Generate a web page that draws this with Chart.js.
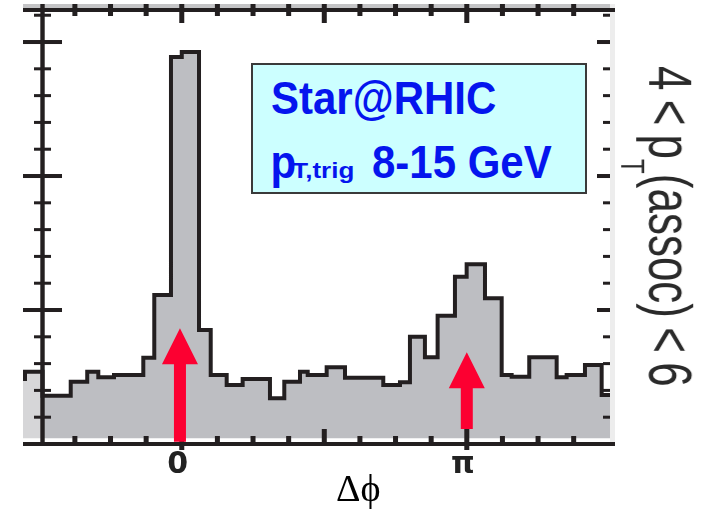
<!DOCTYPE html>
<html>
<head>
<meta charset="utf-8">
<script src="https://cdn.jsdelivr.net/npm/chart.js@4/dist/chart.umd.min.js"></script>
<style>
  html, body { margin: 0; padding: 0; background: #ffffff; }
  #wrap { position: relative; width: 712px; height: 514px; overflow: hidden; }
  #c { position: absolute; left: 0; top: 0; }
  #infobox {
    position: absolute; left: 251px; top: 63px; width: 336px; height: 131px;
    box-sizing: border-box; background: #ccffff; border: 2px solid #3a3a3a;
  }
  .boxline {
    position: absolute; white-space: nowrap;
    font: bold 42px "Liberation Sans", Arial, sans-serif; line-height: 42px;
    color: #0515ee; transform-origin: 0 35.6px; transform: scaleY(1.12);
  }
  .boxline sub {
    display: inline-block; font-size: 26px; line-height: 26px; vertical-align: baseline;
    margin-left: -4px; margin-right: 6px;
    transform-origin: 0 21px; transform: scaleY(0.75);
  }
  #xtitle {
    position: absolute; left: 336px; top: 469px; white-space: nowrap;
    font: 38px "Liberation Serif", "DejaVu Serif", serif; line-height: 38px; color: #000;
  }
  #sidelabel {
    position: absolute; left: 0; top: 0; white-space: nowrap;
    font: 44px "Liberation Sans", Arial, sans-serif; line-height: 44px; color: #2a2a2a;
    word-spacing: -3px;
    transform-origin: 0 0;
    transform: translate(701px, 66px) rotate(90deg) scaleY(1.4);
  }
  #sidelabel sub { font-size: 24px; line-height: 0; vertical-align: -20px; }
</style>
</head>
<body>
<div id="wrap">
  <canvas id="c" width="712" height="514"></canvas>
  <div id="infobox"></div>
  <div class="boxline" style="left:271px; top:79.4px;">Star@RHIC</div>
  <div class="boxline" style="left:270.5px; top:142.7px;">p<sub>T,trig</sub> 8-15 GeV</div>
  <div id="xtitle">Δϕ</div>
  <div id="sidelabel">4 &lt; p<sub>T</sub>(assoc) &lt; 6</div>
</div>
<script>
// Δφ bin edges (radians) and per-bin yield of the azimuthal correlation histogram
const binEdges = [-1.750, -1.728, -1.535, -1.224, -1.042, -0.920, -0.747, -0.424, -0.303, -0.119,
                  0.000, 0.190, 0.319, 0.495, 0.671, 0.972, 1.130, 1.303, 1.388, 1.597,
                  1.799, 2.221, 2.405, 2.515, 2.680, 2.820, 3.011, 3.140, 3.342, 3.526,
                  3.636, 3.830, 4.132, 4.242, 4.444, 4.628, 4.720];
const binYields = [0.485, 0.540, 0.360, 0.465, 0.540, 0.498, 0.515, 0.644, 1.112, 2.888,
                   2.925, 0.851, 0.515, 0.440, 0.485, 0.341, 0.465, 0.540, 0.515, 0.572,
                   0.495, 0.440, 0.460, 0.801, 0.647, 0.957, 1.249, 1.341, 1.087, 0.515,
                   0.502, 0.647, 0.498, 0.515, 0.590, 0.366];

// axis ranges and tick positions
const xRange = [-1.750, 4.720];
const yRange = [0, 3.239];
const frameLeft = -1.535;                       // position of the left vertical axis
const xTickValues = [-3, -2, -1, 0, 1, 2, 3, 4, 5, 6, 7, 8, 9, 10, 11].map(k => k * Math.PI / 8);
const xTickLabels = { 0: '0', 8: 'π' };         // keyed by multiple of π/8
const yTickValues = [0.2, 0.4, 0.6, 0.8, 1.0, 1.2, 1.4, 1.6, 1.8, 2.0,
                     2.2, 2.4, 2.6, 2.8, 3.0, 3.2];
const yMajorTicks = [1.0, 2.0, 3.0];
const fillBase = 0.042;

// near-side and away-side markers
const arrowAt = [-0.02, Math.PI];
const arrowTip = [0.863, 0.684];
const arrowHeadBase = [0.595, 0.416];
const arrowTail = [0.017, 0.112];

// each bin starts at its left edge; the last edge closes the final bin
const points = binYields.map((v, i) => ({ x: binEdges[i], y: v }));
points.push({ x: binEdges[binEdges.length - 1], y: binYields[binYields.length - 1] });

const dark = '#231f20';

const framePlugin = {
  id: 'frameTicks',
  afterDatasetsDraw(chart) {
    const { ctx, chartArea: a, scales: { x, y } } = chart;
    ctx.save();
    const right = a.right + 5;
    // band above the top axis
    ctx.fillStyle = '#c4c4c6';
    ctx.fillRect(a.left, a.top - 6, right - a.left, 4.5);
    // faint right-hand axis
    ctx.fillStyle = '#ededed';
    ctx.fillRect(a.right, a.top - 6, 5, a.bottom - a.top + 6);
    ctx.fillStyle = dark;
    // top and bottom axis lines
    ctx.fillRect(a.left, a.top - 2, right - a.left, 4);
    ctx.fillRect(a.left, a.bottom - 2, right - a.left, 4);
    // left axis
    const lx = x.getPixelForValue(frameLeft);
    ctx.fillRect(lx - 2.2, a.top - 6, 4.4, a.bottom - a.top + 8);
    // Δφ ticks on bottom and top
    xTickValues.forEach(v => {
      const k = Math.round(v / (Math.PI / 8));
      const px = x.getPixelForValue(v);
      const major = k % 4 === 0;
      const labelled = xTickLabels[k] !== undefined;
      const up = major ? 15 : 8;
      const down = labelled ? 6 : 0;
      ctx.fillRect(px - 2.5, a.bottom - up, 5, up + down);
      const topLen = major ? 19 : 12;
      ctx.fillRect(px - 2.5, a.top - 6, 5, topLen);
    });
    // yield ticks on left and right
    yTickValues.forEach(v => {
      const py = y.getPixelForValue(v);
      const major = yMajorTicks.includes(v);
      if (major) {
        ctx.fillRect(lx - 19.5, py - 2, 39, 4);
        ctx.fillRect(a.right - 13, py - 2, 13, 4);
      } else {
        ctx.fillRect(lx - 8.5, py - 1.5, 17, 3);
        ctx.fillRect(a.right - 7, py - 1.5, 7, 3);
      }
    });
    ctx.restore();
  },
  afterDraw(chart) {
    const { ctx, scales: { x, y } } = chart;
    ctx.save();
    ctx.fillStyle = '#fc0031';
    arrowAt.forEach((v, i) => {
      const px = x.getPixelForValue(v);
      const tip = y.getPixelForValue(arrowTip[i]);
      const hb = y.getPixelForValue(arrowHeadBase[i]);
      const tail = y.getPixelForValue(arrowTail[i]);
      ctx.beginPath();
      ctx.moveTo(px, tip);
      ctx.lineTo(px + 18, hb);
      ctx.lineTo(px + 6, hb);
      ctx.lineTo(px + 6, tail);
      ctx.lineTo(px - 6, tail);
      ctx.lineTo(px - 6, hb);
      ctx.lineTo(px - 18, hb);
      ctx.closePath();
      ctx.fill();
    });
    ctx.restore();
  }
};

new Chart(document.getElementById('c'), {
  type: 'line',
  data: {
    datasets: [{
      data: points,
      stepped: 'before',
      borderColor: dark,
      borderWidth: 4,
      borderJoinStyle: 'miter',
      pointRadius: 0,
      fill: { value: fillBase },
      backgroundColor: (c) => {
        const chart = c.chart;
        const a = chart.chartArea;
        if (!a) return '#bdbec2';
        const px = chart.scales.x.getPixelForValue(frameLeft);
        const f = Math.min(1, Math.max(0, (px - a.left) / (a.right - a.left)));
        const g = chart.ctx.createLinearGradient(a.left, 0, a.right, 0);
        g.addColorStop(0, '#d6d6d8');
        g.addColorStop(f, '#d6d6d8');
        g.addColorStop(f, '#bdbec2');
        g.addColorStop(1, '#bdbec2');
        return g;
      }
    }]
  },
  options: {
    responsive: false,
    animation: false,
    events: [],
    layout: { padding: { left: 23, right: 102, top: 10, bottom: 0 } },
    plugins: { legend: { display: false }, tooltip: { enabled: false } },
    scales: {
      x: {
        type: 'linear',
        min: xRange[0],
        max: xRange[1],
        grid: { display: false, drawTicks: false },
        border: { display: false },
        afterBuildTicks: (s) => { s.ticks = xTickValues.map(v => ({ value: v })); },
        afterFit: (s) => { s.height = 70; },
        ticks: {
          autoSkip: false,
          maxRotation: 0,
          padding: 3,
          labelOffset: -4,
          color: '#222',
          font: { family: 'DejaVu Sans', size: 30, weight: 'bold' },
          callback: (v) => {
            const k = Math.round(v / (Math.PI / 8));
            return xTickLabels[k] !== undefined ? xTickLabels[k] : '';
          }
        }
      },
      y: {
        display: false,
        min: yRange[0],
        max: yRange[1]
      }
    }
  },
  plugins: [framePlugin]
});
</script>
</body>
</html>
